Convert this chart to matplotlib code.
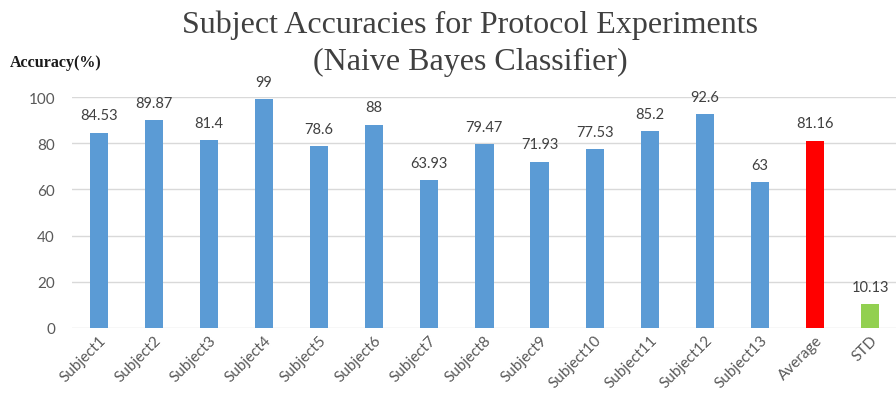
import matplotlib.pyplot as plt

# accuracy per subject plus the summary bars
labels = ['Subject1', 'Subject2', 'Subject3', 'Subject4', 'Subject5', 'Subject6',
          'Subject7', 'Subject8', 'Subject9', 'Subject10', 'Subject11', 'Subject12',
          'Subject13', 'Average', 'STD']
values = [84.53, 89.87, 81.4, 99, 78.6, 88, 63.93, 79.47, 71.93, 77.53, 85.2, 92.6,
          63, 81.16, 10.13]
colors = ['#5B9BD5'] * 13 + ['#FF0000', '#92D050']

fig = plt.figure(figsize=(8.96, 4.02), dpi=100)
ax = fig.add_axes([0.080, 0.182, 0.925, 0.574])

x = range(len(labels))
ax.bar(x, values, width=0.33, color=colors, zorder=3)
for i, v in enumerate(values):
    ax.text(i, v + 4.5, f'{v:g}', ha='center', va='bottom', fontsize=10.5,
            family='Lato', color='#404040')

ax.set_xlim(-0.49, len(labels) - 0.45)
ax.set_ylim(0, 100)
ax.set_yticks(range(0, 101, 20))
ax.yaxis.grid(True, color='#d9d9d9', linewidth=1, zorder=0)
for s in ax.spines.values():
    s.set_visible(False)
ax.tick_params(axis='both', length=0, labelsize=11, labelcolor='#595959')
ax.tick_params(axis='y', pad=12)
ax.set_xticks(list(x))
ax.set_xticklabels(labels, rotation=45, ha='right', rotation_mode='anchor', family='Lato')
for t in ax.get_yticklabels():
    t.set_family('Lato')

fig.text(0.525, 0.975, 'Subject Accuracies for Protocol Experiments\n(Naive Bayes Classifier)',
         ha='center', va='top', fontsize=23, family='Liberation Serif', color='#404040',
         linespacing=1.37)
fig.text(0.011, 0.843, 'Accuracy(%)', fontsize=11.5, family='Liberation Serif',
         weight='bold', color='#1a1a1a', va='center')

fig.savefig('out.png', dpi=100)
